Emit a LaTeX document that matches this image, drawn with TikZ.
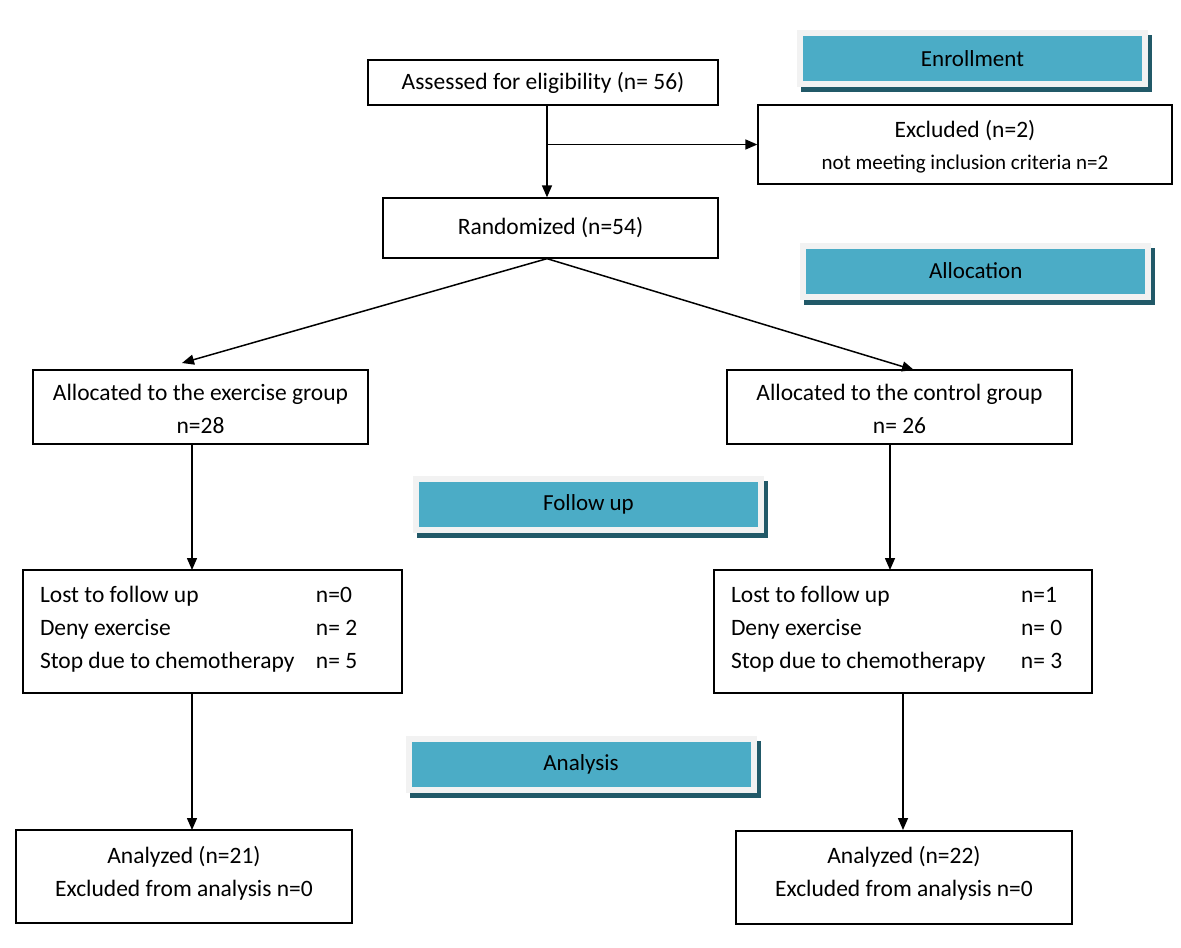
\documentclass[tikz,border=0pt]{standalone}
\usepackage{fontspec}
\setmainfont{Carlito}
\usetikzlibrary{arrows.meta,calc}
\definecolor{bannerfill}{HTML}{4BACC6}
\definecolor{bannerframe}{HTML}{F2F2F2}
\definecolor{bannershade}{HTML}{215968}
\begin{document}
\begin{tikzpicture}[x=1pt,y=-1pt,
  box/.style={draw=black,line width=1.3pt,fill=white,inner sep=0pt,align=center,
    font=\fontsize{23.5}{33}\selectfont},
  banner/.style={draw=bannerframe,line width=6pt,fill=bannerfill,inner sep=0pt,
    minimum width=345pt,minimum height=51pt,font=\fontsize{23}{28}\selectfont,
    preaction={draw=bannershade,fill=bannershade,line width=6pt,
      transform canvas={xshift=4pt,yshift=-5pt}}},
  arr/.style={line width=1.5pt,-{Triangle[length=12pt,width=10pt]}},
  ln/.style={line width=1.5pt}]
\useasboundingbox (0,0) rectangle (1181,948);
\fill[white] (0,0) rectangle (1181,948);

% banners
\node[banner] (enr) at (972.5,58.5) {Enrollment};
\node[banner] (alo) at (975.7,271) {Allocation};
\node[banner] (fol) at (588.5,504) {Follow up};
\node[banner] (ana) at (581,764.5) {Analysis};

% boxes
\node[box,minimum width=350pt,minimum height=45pt] (ass) at (543,82.5) {Assessed for eligibility (n= 56)};
\node[box,minimum width=414pt,minimum height=79pt] (exc) at (965,144.5)
  {\begin{tabular}{@{}c@{}}\noalign{\vskip5pt}Excluded (n=2)\\[-1pt]{\fontsize{21}{28}\selectfont not meeting inclusion criteria n=2}\end{tabular}};
\node[box,minimum width=335pt,minimum height=60pt] (ran) at (550.5,228) {Randomized (n=54)};
\node[box,minimum width=335pt,minimum height=74pt] (exg) at (200.5,407)
  {\begin{tabular}{@{}c@{}}\noalign{\vskip6pt}Allocated to the exercise group\\n=28\end{tabular}};
\node[box,minimum width=345pt,minimum height=74pt] (ctl) at (899.5,407)
  {\begin{tabular}{@{}c@{}}\noalign{\vskip6pt}Allocated to the control group\\n= 26\end{tabular}};
\node[box,minimum width=379pt,minimum height=123pt] (lsl) at (212.5,631.5)
  {\begin{tabular}{@{}p{276pt}@{}p{69pt}@{}}Lost to follow up & n=0\\ Deny exercise & n= 2\\ Stop due to chemotherapy & n= 5\\\noalign{\vskip6pt}\end{tabular}};
\node[box,minimum width=378pt,minimum height=123pt] (lsr) at (903,631.5)
  {\begin{tabular}{@{}p{290pt}@{}p{54pt}@{}}Lost to follow up & n=1\\ Deny exercise & n= 0\\ Stop due to chemotherapy & n= 3\\\noalign{\vskip6pt}\end{tabular}};
\node[box,minimum width=336pt,minimum height=93pt] (anl) at (184,876.5)
  {\begin{tabular}{@{}c@{}}Analyzed (n=21)\\Excluded from analysis n=0\\\noalign{\vskip6pt}\end{tabular}};
\node[box,minimum width=336pt,minimum height=93pt] (anr) at (904,877.5)
  {\begin{tabular}{@{}c@{}}Analyzed (n=22)\\Excluded from analysis n=0\\\noalign{\vskip8pt}\end{tabular}};

% connectors
\coordinate (split) at ($(ass.south)+(4,0)$);
\coordinate (branch) at (split |- exc.west);
\coordinate (rtop) at (split |- ran.north);
\draw[arr] (split) -- (rtop);
\draw[arr] (branch) -- (exc.west);
\coordinate (rb) at ($(ran.south)+(-3.5,0)$);
\coordinate (lt) at (182,363);
\coordinate (rt) at (914,370);
\draw[arr] (rb) -- (lt);
\draw[arr] (rb) -- (rt);
\draw[arr] (192,444) -- (192,570);
\draw[arr] (890,444) -- (890,570);
\draw[arr] (192,693) -- (192,830);
\draw[arr] (903,693) -- (903,830);
\end{tikzpicture}
\end{document}
